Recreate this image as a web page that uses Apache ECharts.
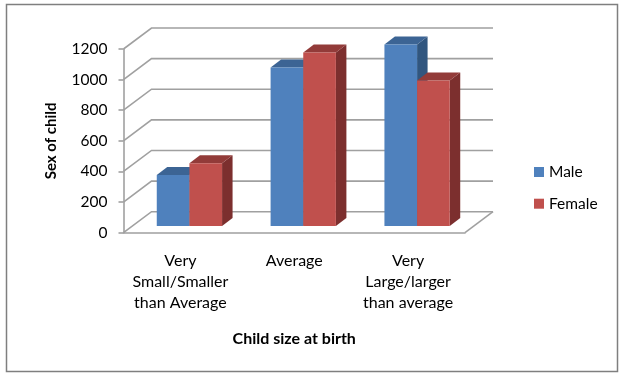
<!DOCTYPE html>
<html><head><meta charset="utf-8">
<style>html,body{margin:0;padding:0;background:#fff}#c{width:621px;height:375px}</style>
<script src="https://cdn.jsdelivr.net/npm/echarts@6/dist/echarts.min.js"></script>
</head><body><div id="c"></div>
<script>
var categories = ['Very\nSmall/Smaller\nthan Average', 'Average', 'Very\nLarge/larger\nthan average'];
var male = [333, 1035, 1185];
var female = [410, 1133, 950];
var yTicks = [0, 200, 400, 600, 800, 1000, 1200];

var FONT = 'Lato';
var AXIS = '#a0a0a0';
var WALL = {dx: 28, dy: -21};
var BAR = {dx: 9, dy: -6.7, w: 32.65, ddx: 10.5, ddy: -8};

function wallItem(params, api) {
  var v = api.value(0);
  var band = api.size([1, 0])[0];
  var left = api.coord([0, v]);
  var right = api.coord([2, v]);
  var x0 = left[0] - band / 2, x1 = right[0] + band / 2, y = left[1];
  var st = {stroke: AXIS, lineWidth: 1.6, fill: null};
  var children = [
    {type: 'polyline', shape: {points: [[x0, y], [x0 + WALL.dx, y + WALL.dy], [x1 + WALL.dx, y + WALL.dy]]}, style: st}
  ];
  if (v === 0) {
    children.push({type: 'line', shape: {x1: x1, y1: y, x2: x1 + WALL.dx, y2: y + WALL.dy}, style: st});
  }
  return {type: 'group', children: children};
}

function barItem(offset, front, top, side) {
  return function (params, api) {
    var i = api.value(0), v = api.value(1);
    var p = api.coord([i, v]), b = api.coord([i, 0]);
    var x0 = p[0] + BAR.dx + offset * BAR.w, x1 = x0 + BAR.w;
    var yt = p[1] + BAR.dy, yb = b[1] + BAR.dy;
    return {type: 'group', children: [
      {type: 'polygon', shape: {points: [[x1, yt], [x1 + BAR.ddx, yt + BAR.ddy], [x1 + BAR.ddx, yb + BAR.ddy], [x1, yb]]}, style: {fill: side}},
      {type: 'polygon', shape: {points: [[x0, yt], [x0 + BAR.ddx, yt + BAR.ddy], [x1 + BAR.ddx, yt + BAR.ddy], [x1, yt]]}, style: {fill: top}},
      {type: 'rect', shape: {x: x0, y: yt, width: BAR.w, height: yb - yt}, style: {fill: front}}
    ]};
  };
}

var chart = echarts.init(document.getElementById('c'), null, {renderer: 'canvas'});
chart.setOption({
  animation: false,
  backgroundColor: '#fff',
  textStyle: {fontFamily: FONT},
  grid: {left: 123.5, top: 49, width: 341.5, height: 183.7, containLabel: false},
  graphic: [{type: 'rect', silent: true, z: -1, shape: {x: 6.5, y: 4.5, width: 611, height: 367}, style: {fill: '#fff', stroke: '#7f7f7f', lineWidth: 1.5}}],
  legend: {
    left: 534, top: 164, padding: 0, orient: 'vertical', itemWidth: 10, itemHeight: 10, itemGap: 15.7,
    icon: 'rect', data: ['Male', 'Female'],
    textStyle: {fontFamily: FONT, fontSize: 15.5, lineHeight: 16, color: '#000'}
  },
  xAxis: {
    type: 'category', data: categories, name: 'Child size at birth', nameLocation: 'middle', nameGap: 98,
    nameTextStyle: {fontFamily: FONT, fontWeight: 'bold', fontSize: 16, color: '#000'},
    axisLine: {lineStyle: {color: AXIS, width: 1.6}}, axisTick: {show: false},
    axisLabel: {color: '#000', fontFamily: FONT, fontSize: 16, lineHeight: 21, margin: 18, interval: 0}
  },
  yAxis: {
    type: 'value', min: 0, max: 1200, interval: 200, name: 'Sex of child', nameLocation: 'middle', nameGap: 65,
    nameTextStyle: {fontFamily: FONT, fontWeight: 'bold', fontSize: 15, color: '#000'},
    axisLine: {show: true, lineStyle: {color: AXIS, width: 1.6}},
    axisTick: {show: true, length: 5, lineStyle: {color: AXIS, width: 1.6}},
    splitLine: {show: false},
    axisLabel: {color: '#000', fontFamily: FONT, fontSize: 15.5, margin: 16, formatter: function (v) { return String(v); }}
  },
  series: [
    {type: 'custom', name: 'walls', z: 1, silent: true, renderItem: wallItem, data: yTicks.map(function (t) { return [t]; }), encode: {y: 0}, clip: false},
    {type: 'custom', name: 'Male', z: 2, itemStyle: {color: '#4f81bd'}, renderItem: barItem(-1, '#4f81bd', '#3c6494', '#31567f'),
      data: male.map(function (v, i) { return [i, v]; }), encode: {x: 0, y: 1}},
    {type: 'custom', name: 'Female', z: 3, itemStyle: {color: '#c0504d'}, renderItem: barItem(0, '#c0504d', '#923b39', '#7c2f2e'),
      data: female.map(function (v, i) { return [i, v]; }), encode: {x: 0, y: 1}}
  ]
});
</script></body></html>
